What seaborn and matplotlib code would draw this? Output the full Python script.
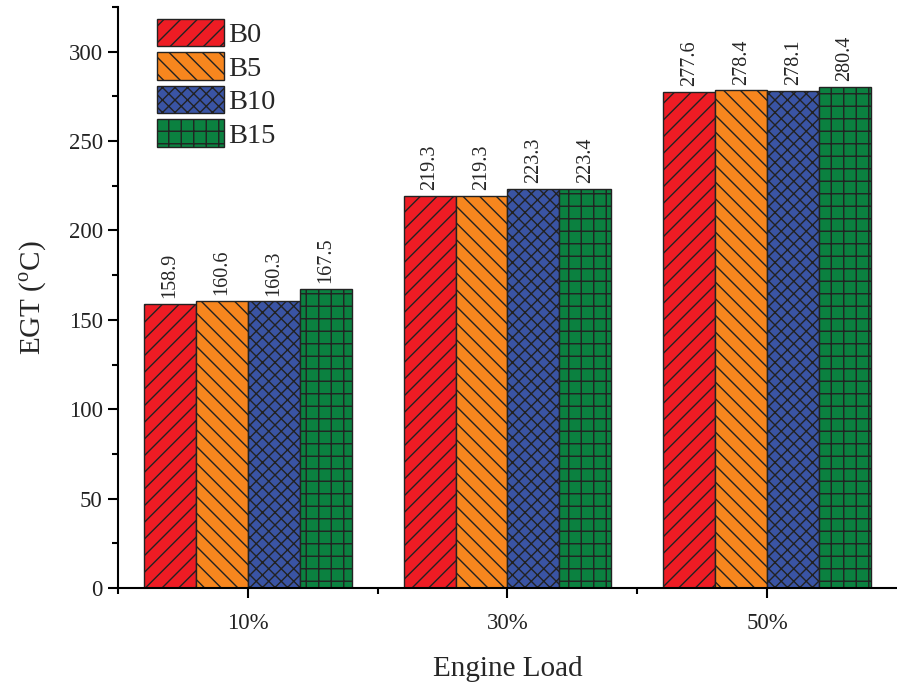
import numpy as np
import pandas as pd
import matplotlib
matplotlib.use('Agg')
import matplotlib.pyplot as plt
import matplotlib.ticker as mtick
import seaborn as sns

# data
loads = ['10%', '30%', '50%']
fuels = ['B0', 'B5', 'B10', 'B15']
b0 = [158.9, 219.3, 277.6]
b5 = [160.6, 219.3, 278.4]
b10 = [160.3, 223.3, 278.1]
b15 = [167.5, 223.4, 280.4]

colors = ['#ED1C24', '#F7861E', '#3A54A4', '#0B8140']
hatches = ['///', '\\\\\\', 'xxxx', '++']

df = pd.DataFrame({
    'load': loads * 4,
    'fuel': [f for f in fuels for _ in loads],
    'egt': b0 + b5 + b10 + b15,
})

# hatch spacing scales with dpi; 150 gives ~17/12.5/12.5 px like the original
DPI = 150
k = 100 / DPI  # sizes below were tuned for 100 dpi

sns.set_style('ticks')
plt.rcParams['font.family'] = ['Liberation Serif', 'DejaVu Serif']
plt.rcParams['mathtext.fontset'] = 'custom'
plt.rcParams['mathtext.rm'] = 'Liberation Serif'
plt.rcParams['hatch.linewidth'] = 1.0 * k
plt.rcParams['hatch.color'] = 'black'

fig = plt.figure(figsize=(897 / DPI, 685 / DPI), dpi=DPI)
ax = fig.add_axes([0.1315, 0.1416, 0.8685, 0.8482])

sns.barplot(data=df, x='load', y='egt', hue='fuel', palette=colors,
            order=loads, hue_order=fuels, width=0.8, saturation=1,
            edgecolor='#222222', linewidth=1.0 * k, legend=False, ax=ax)

for cont, h in zip(ax.containers, hatches):
    for p in cont.patches:
        p.set_hatch(h)
    ax.bar_label(cont, fmt='%.1f', rotation=90, padding=4 * k, fontsize=14.5 * k)

ax.set_xlim(-0.5, 2.5)
ax.set_ylim(0, 325)
ax.yaxis.set_major_locator(mtick.MultipleLocator(50))
ax.yaxis.set_minor_locator(mtick.MultipleLocator(25))
ax.set_xticks([-0.5, 0.5, 1.5], minor=True)

ax.tick_params(axis='both', which='major', direction='out', length=7 * k, width=1.5 * k,
               labelsize=16.5 * k, color='black', labelcolor='#222222')
ax.tick_params(axis='both', which='minor', direction='out', length=4 * k, width=1.5 * k,
               color='black')
ax.tick_params(axis='x', which='major', pad=11 * k)
ax.tick_params(axis='y', which='major', pad=4 * k)

for s in ['top', 'right']:
    ax.spines[s].set_visible(False)
for s in ['left', 'bottom']:
    ax.spines[s].set_linewidth(1.5 * k)
    ax.spines[s].set_color('black')

ax.set_xlabel('Engine Load', fontsize=21 * k, labelpad=16 * k)
ax.set_ylabel('EGT ($^{\\mathrm{o}}$C)', fontsize=21 * k, labelpad=14 * k)

ax.legend(ax.containers, fuels, loc='upper left', bbox_to_anchor=(0.05, 0.98),
          frameon=False, fontsize=20.5 * k, borderpad=0, borderaxespad=0,
          handlelength=2.35, handleheight=1.1, handletextpad=0.15,
          labelspacing=0.15)

fig.savefig('out.png', dpi=DPI)
